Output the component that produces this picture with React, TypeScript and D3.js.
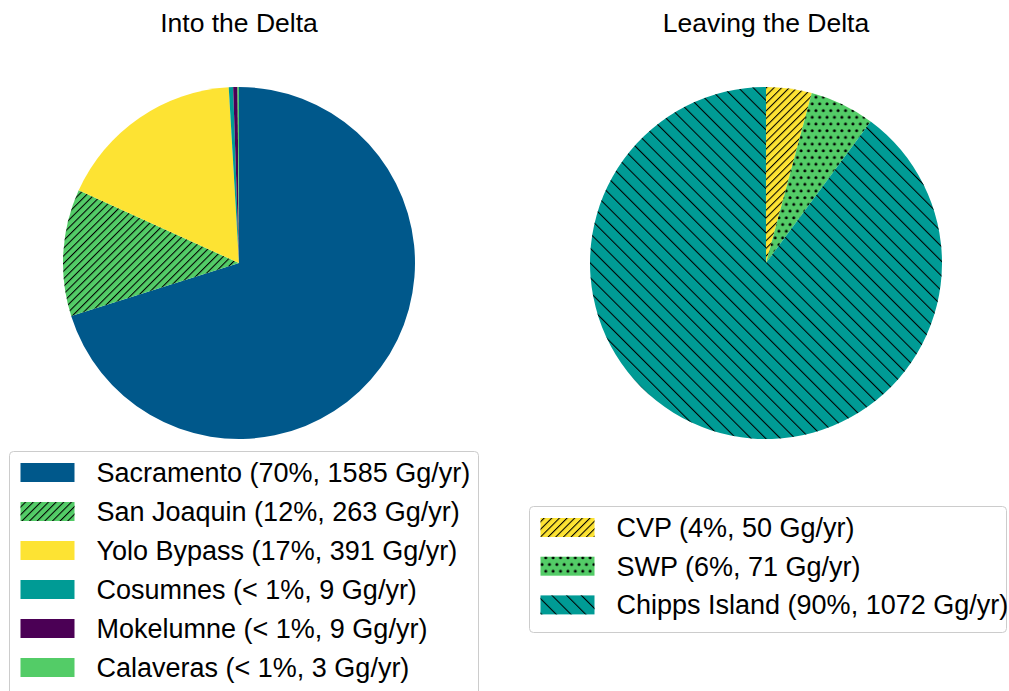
import React from "react";
import * as d3 from "d3";

const inflowNames = ["Sacramento", "San Joaquin", "Yolo Bypass", "Cosumnes", "Mokelumne", "Calaveras"];
const inflowValues = [1585, 263, 391, 9, 9, 3];
const inflowPct = ["70%", "12%", "17%", "< 1%", "< 1%", "< 1%"];
const inflowColors = ["#00588B", "#53CC67", "#FDE333", "#009B95", "#4B0055", "#53CC67"];
const inflowHatch = ["none", "fwd", "none", "none", "none", "none"];

const outflowNames = ["CVP", "SWP", "Chipps Island"];
const outflowValues = [50, 71, 1072];
const outflowPct = ["4%", "6%", "90%"];
const outflowColors = ["#FDE333", "#53CC67", "#009B95"];
const outflowHatch = ["fwd", "dots", "back"];

const titles = ["Into the Delta", "Leaving the Delta"];

const W = 1009;
const H = 691;
const R = 176;
const FONT = "'Liberation Sans', Arial, Helvetica, sans-serif";

function Pie({ cx, cy, values, colors, hatches }: any) {
  const pie = d3.pie<number>().sort(null).startAngle(0).endAngle(2 * Math.PI);
  const arc = d3.arc<d3.PieArcDatum<number>>().innerRadius(0).outerRadius(R);
  const arcs = pie(values);
  return (
    <g transform={`translate(${cx},${cy})`}>
      {arcs.map((a, i) => (
        <g key={i}>
          <path d={arc(a) || ""} fill={colors[i]} />
          {hatches[i] !== "none" && <path d={arc(a) || ""} fill={`url(#${hatches[i]})`} />}
        </g>
      ))}
    </g>
  );
}

function Legend({ x, y, w, h, names, pct, values, colors, hatches, rowH, textX }: any) {
  return (
    <g>
      <rect x={x} y={y} width={w} height={h} rx={4} ry={4} fill="white" fillOpacity={0.8} stroke="#cccccc" strokeWidth={1} />
      {names.map((n: string, i: number) => {
        const base = y + 30.5 + i * rowH;
        return (
          <g key={i}>
            <rect x={x + 11} y={base - 19} width={54} height={19} fill={colors[i]} />
            {hatches[i] !== "none" && <rect x={x + 11} y={base - 19} width={54} height={19} fill={`url(#${hatches[i]})`} />}
            <text x={x + textX} y={base} fontFamily={FONT} fontSize={27} fill="#000">
              {`${n} (${pct[i]}, ${values[i]} Gg/yr)`}
            </text>
          </g>
        );
      })}
    </g>
  );
}

export default function App() {
  const c1 = 239, c2 = 766, cy = 263;
  return (
    <svg width={W} height={H} style={{ position: "absolute", left: 0, top: 0, background: "white" }}>
      <defs>
        <pattern id="fwd" patternUnits="userSpaceOnUse" width={5.4} height={10} patternTransform="rotate(45)">
          <line x1={0} y1={0} x2={0} y2={10} stroke="#000" strokeWidth={2.1} />
        </pattern>
        <pattern id="back" patternUnits="userSpaceOnUse" width={10.4} height={10} patternTransform="rotate(-45)">
          <line x1={0} y1={0} x2={0} y2={10} stroke="#000" strokeWidth={2.1} />
        </pattern>
        <pattern id="dots" patternUnits="userSpaceOnUse" width={7.4} height={13.4}>
          <circle cx={1.85} cy={1.7} r={1.5} fill="#000" />
          <circle cx={5.55} cy={8.4} r={1.5} fill="#000" />
        </pattern>
      </defs>
      <rect x={0} y={0} width={W} height={H} fill="white" />
      <text x={c1} y={32} textAnchor="middle" fontFamily={FONT} fontSize={26.5}>{titles[0]}</text>
      <text x={c2} y={32} textAnchor="middle" fontFamily={FONT} fontSize={26.5}>{titles[1]}</text>
      <Pie cx={c1} cy={cy} values={inflowValues} colors={inflowColors} hatches={inflowHatch} />
      <Pie cx={c2} cy={cy} values={outflowValues} colors={outflowColors} hatches={outflowHatch} />
      <Legend x={9.5} y={451.5} w={469} h={260} names={inflowNames} pct={inflowPct} values={inflowValues}
        colors={inflowColors} hatches={inflowHatch} rowH={39} textX={87} />
      <Legend x={529.5} y={506.5} w={477} h={126} names={outflowNames} pct={outflowPct} values={outflowValues}
        colors={outflowColors} hatches={outflowHatch} rowH={38.7} textX={87} />
    </svg>
  );
}
